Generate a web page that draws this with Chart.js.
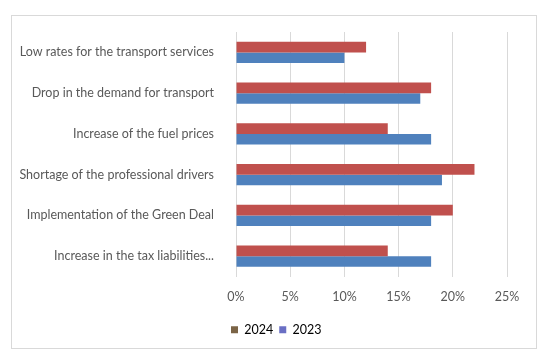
<!DOCTYPE html>
<html>
<head>
<meta charset="utf-8">
<script src="https://cdn.jsdelivr.net/npm/chart.js@4/dist/chart.umd.min.js"></script>
<style>
  html, body { margin: 0; padding: 0; background: #fff; }
  #wrap { position: relative; width: 550px; height: 361px; }
  #frame { position: absolute; left: 11px; top: 15px; width: 524px; height: 332px; border: 1px solid #d9d9d9; }
  canvas { position: absolute; left: 0; top: 0; }
</style>
</head>
<body>
<div id="wrap">
  <div id="frame"></div>
  <canvas id="chart" width="550" height="361"></canvas>
</div>
<script>
// categories, top to bottom
const categories = [
  'Low rates for the transport services',
  'Drop in the demand for transport',
  'Increase of the fuel prices',
  'Shortage of the professional drivers',
  'Implementation of the Green Deal',
  'Increase in the tax liabilities...'
];
const series2024 = [12, 18, 14, 22, 20, 14];
const series2023 = [10, 17, 18, 19, 18, 18];
const xTicks = [0, 5, 10, 15, 20, 25];

// legend swatches look a bit off from the bars in the original
const legendSwatch = { '2024': '#7b6446', '2023': '#6a6fc4' };

const FONT = 'Lato, "Noto Sans", sans-serif';

// legend sits under the plot, starting near the 0% line
const legendShift = {
  id: 'legendShift',
  afterLayout(chart) { chart.legend.left = chart.chartArea.left - 11; }
};

new Chart(document.getElementById('chart'), {
  type: 'bar',
  data: {
    labels: categories,
    datasets: [
      { label: '2024', data: series2024, backgroundColor: '#c0504d' },
      { label: '2023', data: series2023, backgroundColor: '#4f81bd' }
    ]
  },
  plugins: [legendShift],
  options: {
    indexAxis: 'y',
    responsive: false,
    animation: false,
    layout: { padding: { top: 32, right: 43, left: 0, bottom: 15 } },
    datasets: { bar: { categoryPercentage: 0.52, barPercentage: 1.0 } },
    plugins: {
      tooltip: { enabled: false },
      legend: {
        position: 'bottom',
        align: 'start',
        labels: {
          boxWidth: 7, boxHeight: 7, padding: 6,
          color: '#595959',
          font: { family: FONT, size: 12.5 },
          generateLabels: chart => chart.data.datasets.map((ds, i) => ({
            text: ds.label,
            fillStyle: legendSwatch[ds.label],
            strokeStyle: legendSwatch[ds.label],
            lineWidth: 0,
            datasetIndex: i
          }))
        }
      }
    },
    scales: {
      x: {
        min: 0, max: 25,
        afterBuildTicks: s => { s.ticks = xTicks.map(v => ({ value: v })); },
        grid: { color: '#d9d9d9', drawTicks: false },
        border: { display: false },
        ticks: { color: '#595959', padding: 13, font: { family: FONT, size: 12.5 }, callback: v => v + '%' }
      },
      y: {
        grid: { display: false },
        border: { display: false },
        afterFit: s => { s.width = 236; },
        ticks: { color: '#595959', padding: 14, font: { family: FONT, size: 12.5 } }
      }
    }
  }
});
</script>
</body>
</html>
